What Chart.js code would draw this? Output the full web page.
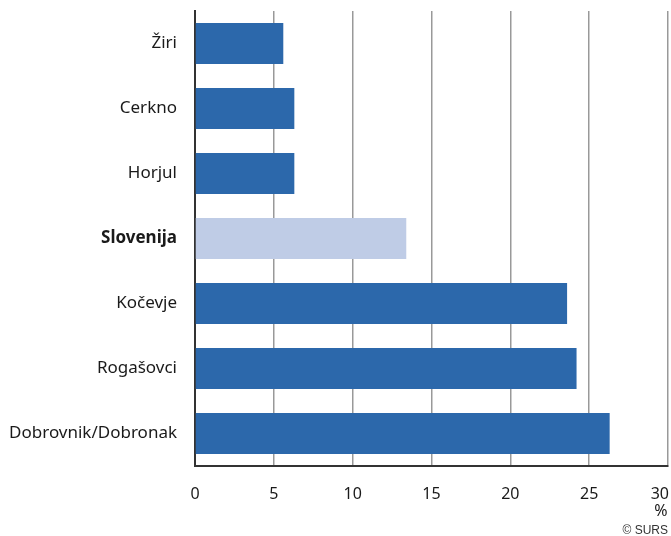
<!DOCTYPE html>
<html>
<head>
<meta charset="utf-8">
<script src="https://cdn.jsdelivr.net/npm/chart.js@4"></script>
<style>
  html, body { margin: 0; padding: 0; background: #fff; }
  #wrap { width: 671px; height: 536px; }
</style>
</head>
<body>
<div id="wrap"><canvas id="chart"></canvas></div>
<script>
const categories = ['Žiri', 'Cerkno', 'Horjul', 'Slovenija', 'Kočevje', 'Rogašovci', 'Dobrovnik/Dobronak'];
const values = [5.6, 6.3, 6.3, 13.4, 23.6, 24.2, 26.3];
const xTicks = [0, 5, 10, 15, 20, 25, 30];

const darkBlue = '#2c68ab';
const lightBlue = '#bfcce6';
const fontFamily = '"Noto Sans", "Open Sans", sans-serif';

// x tick labels, % unit and source note
const extraText = {
  id: 'extraText',
  afterDraw(chart) {
    const ctx = chart.ctx;
    const x = chart.scales.x;
    const area = chart.chartArea;
    ctx.save();
    ctx.fillStyle = '#1a1a1a';
    ctx.font = '16px ' + fontFamily;
    ctx.textBaseline = 'middle';
    xTicks.forEach((v, i) => {
      const px = x.getPixelForValue(v);
      if (i === xTicks.length - 1) {
        ctx.textAlign = 'right';
        ctx.fillText(String(v), px + 1, area.bottom + 28);
      } else {
        ctx.textAlign = 'center';
        ctx.fillText(String(v), px, area.bottom + 28);
      }
    });
    ctx.textAlign = 'center';
    ctx.fillText('%', x.getPixelForValue(30) - 7, area.bottom + 45);
    ctx.font = '12px "Liberation Sans", Arial, sans-serif';
    ctx.textAlign = 'right';
    ctx.fillStyle = '#333';
    ctx.fillText('© SURS', x.getPixelForValue(30), area.bottom + 65);
    ctx.restore();
  }
};

new Chart(document.getElementById('chart'), {
  type: 'bar',
  data: {
    labels: categories,
    datasets: [{
      data: values,
      backgroundColor: categories.map(c => c === 'Slovenija' ? lightBlue : darkBlue),
      barPercentage: 0.632,
      categoryPercentage: 1
    }]
  },
  options: {
    indexAxis: 'y',
    responsive: true,
    maintainAspectRatio: false,
    animation: false,
    layout: { padding: { top: 11, right: 3, bottom: 70, left: 0 } },
    plugins: {
      legend: { display: false },
      tooltip: { enabled: false }
    },
    scales: {
      x: {
        min: 0,
        max: 30,
        ticks: { display: false, stepSize: 5 },
        grid: { color: '#999', lineWidth: 1.5, drawTicks: false },
        border: { color: '#333', width: 2 }
      },
      y: {
        ticks: {
          padding: 18,
          color: '#1a1a1a',
          font: ctx => ({
            family: fontFamily,
            size: 17,
            weight: categories[ctx.index] === 'Slovenija' ? 'bold' : 'normal'
          })
        },
        grid: { display: false, drawTicks: false },
        border: { color: '#333', width: 2 },
        afterFit(scale) {
          scale.width = 195;
          scale.paddingTop = 0;
          scale.paddingBottom = 0;
        }
      }
    }
  },
  plugins: [extraText]
});
</script>
</body>
</html>
